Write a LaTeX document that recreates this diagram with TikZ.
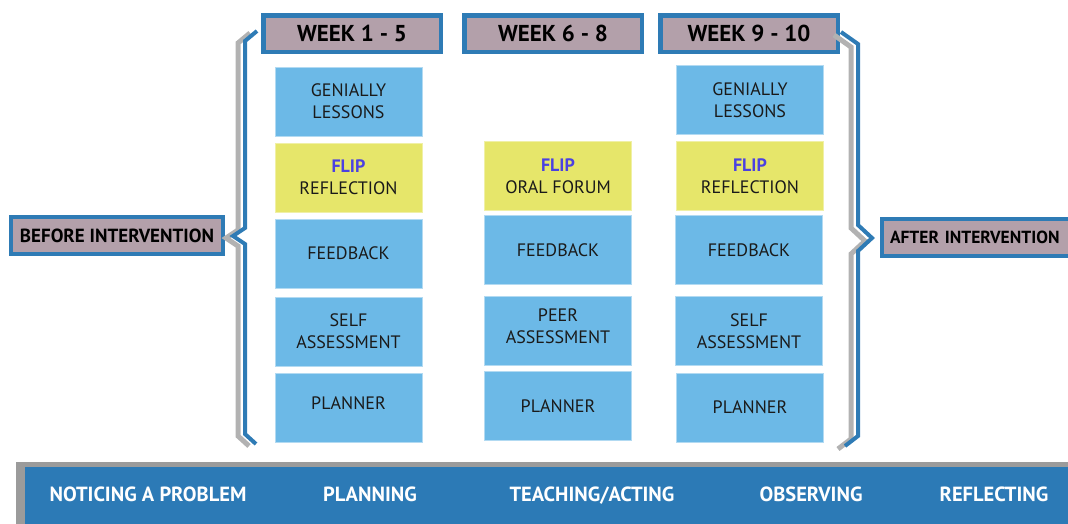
\documentclass[tikz,border=0pt]{standalone}
\usepackage{fontspec}
\setmainfont{PT Sans}
\usetikzlibrary{positioning}

\definecolor{boxblue}{RGB}{108,185,231}
\definecolor{boxedge}{RGB}{178,218,242}
\definecolor{flipyellow}{RGB}{230,230,106}
\definecolor{headmauve}{RGB}{179,160,170}
\definecolor{edgeblue}{RGB}{46,123,181}
\definecolor{bandblue}{RGB}{44,122,182}
\definecolor{bandgray}{RGB}{155,155,155}
\definecolor{bracegray}{RGB}{178,178,178}
\definecolor{flipviolet}{RGB}{75,65,225}
\definecolor{textdark}{RGB}{26,26,26}

\newcommand{\flip}{{\bfseries\color{flipviolet}FLIP}}

\begin{document}
\begin{tikzpicture}[x=1pt,y=-1pt]
\tikzstyle{lesson} = [fill=boxblue, draw=boxedge, line width=1, minimum width=147, minimum height=69, inner sep=0, align=center, text=textdark, font=\fontsize{18}{22}\selectfont]
\tikzstyle{flipbox} = [lesson, fill=flipyellow, draw=flipyellow!60!white]
\tikzstyle{weekhead} = [fill=headmauve, draw=edgeblue, line width=4.5, minimum width=177.5, minimum height=36.5, inner sep=0, text=black, font=\fontsize{23}{26}\selectfont\bfseries]
\tikzstyle{phase} = [fill=headmauve, draw=edgeblue, line width=4, minimum height=37, inner sep=0, text=black, font=\fontsize{19}{21}\selectfont\bfseries]
\tikzstyle{stage} = [anchor=base, text=white, font=\fontsize{20.5}{22}\selectfont\bfseries]
\tikzstyle{brace} = [line width=4, line join=miter]

\useasboundingbox (0,0) rectangle (1068,523);
\clip (0,0) rectangle (1068,523);

% week headers
\node[weekhead] (w1) at (352,33.5) {WEEK 1 - 5};
\node[weekhead] (w2) at (553,33.5) {WEEK 6 - 8};
\node[weekhead] (w3) at (749,33.5) {WEEK 9 - 10};

% week 1 - 5
\node[lesson] (gen1) at (348.5,101.5) {GENIALLY\\LESSONS};
\node[flipbox] (flip1) at (348.5,177.5) {\flip\\REFLECTION};
\node[lesson] (feed1) at (348.5,253.5) {FEEDBACK};
\node[lesson] (self1) at (348.5,331.5) {SELF\\ASSESSMENT};
\node[lesson, text depth=10] (plan1) at (348.5,408) {PLANNER};

% week 6 - 8
\node[flipbox] (flip2) at (558,176) {\flip\\ORAL FORUM};
\node[lesson] (feed2) at (558,250) {FEEDBACK};
\node[lesson, text depth=10] (peer2) at (558,331) {PEER\\ASSESSMENT};
\node[lesson] (plan2) at (558,406) {PLANNER};

% week 9 - 10
\node[lesson] (gen3) at (750,100) {GENIALLY\\LESSONS};
\node[flipbox] (flip3) at (750,176) {\flip\\REFLECTION};
\node[lesson] (feed3) at (749,250) {FEEDBACK};
\node[lesson] (self3) at (749,331) {SELF\\ASSESSMENT};
\node[lesson] (plan3) at (750,407.5) {PLANNER};

% before / after
\node[phase, minimum width=212] (before) at (117,235.5) {BEFORE INTERVENTION};
\node[phase, anchor=west, text width=200, inner xsep=8, align=left, font=\fontsize{17.5}{21}\selectfont\bfseries] (after) at (880,237) {AFTER INTERVENTION};

% braces
\draw[brace, bracegray, line width=5, shift={(-7,2)}] (257,31) -- (245,41) -- (245,228) -- (233,236) -- (245,244) -- (245,434) -- (256,444);
\draw[brace, edgeblue] (257,31) -- (245,41) -- (245,228) -- (233,236) -- (245,244) -- (245,434) -- (256,444);

\draw[brace, bracegray, line width=5, shift={(-7,3)}] (841,32) -- (858,44) -- (858,225) -- (872,238) -- (858,251) -- (858,436) -- (845,446);
\draw[brace, edgeblue] (841,32) -- (858,44) -- (858,225) -- (872,238) -- (858,251) -- (858,436) -- (845,446);

% action research cycle
\fill[bandgray] (16,462) rectangle (1080,530);
\fill[bandblue] (25,467) rectangle (1080,530);
\node[stage] (notice) at (148,501) {NOTICING A PROBLEM};
\node[stage] (plan) at (370,501) {PLANNING};
\node[stage] (teach) at (592,501) {TEACHING/ACTING};
\node[stage] (observe) at (811,501) {OBSERVING};
\node[stage] (reflect) at (994,501) {REFLECTING};

\end{tikzpicture}
\end{document}
